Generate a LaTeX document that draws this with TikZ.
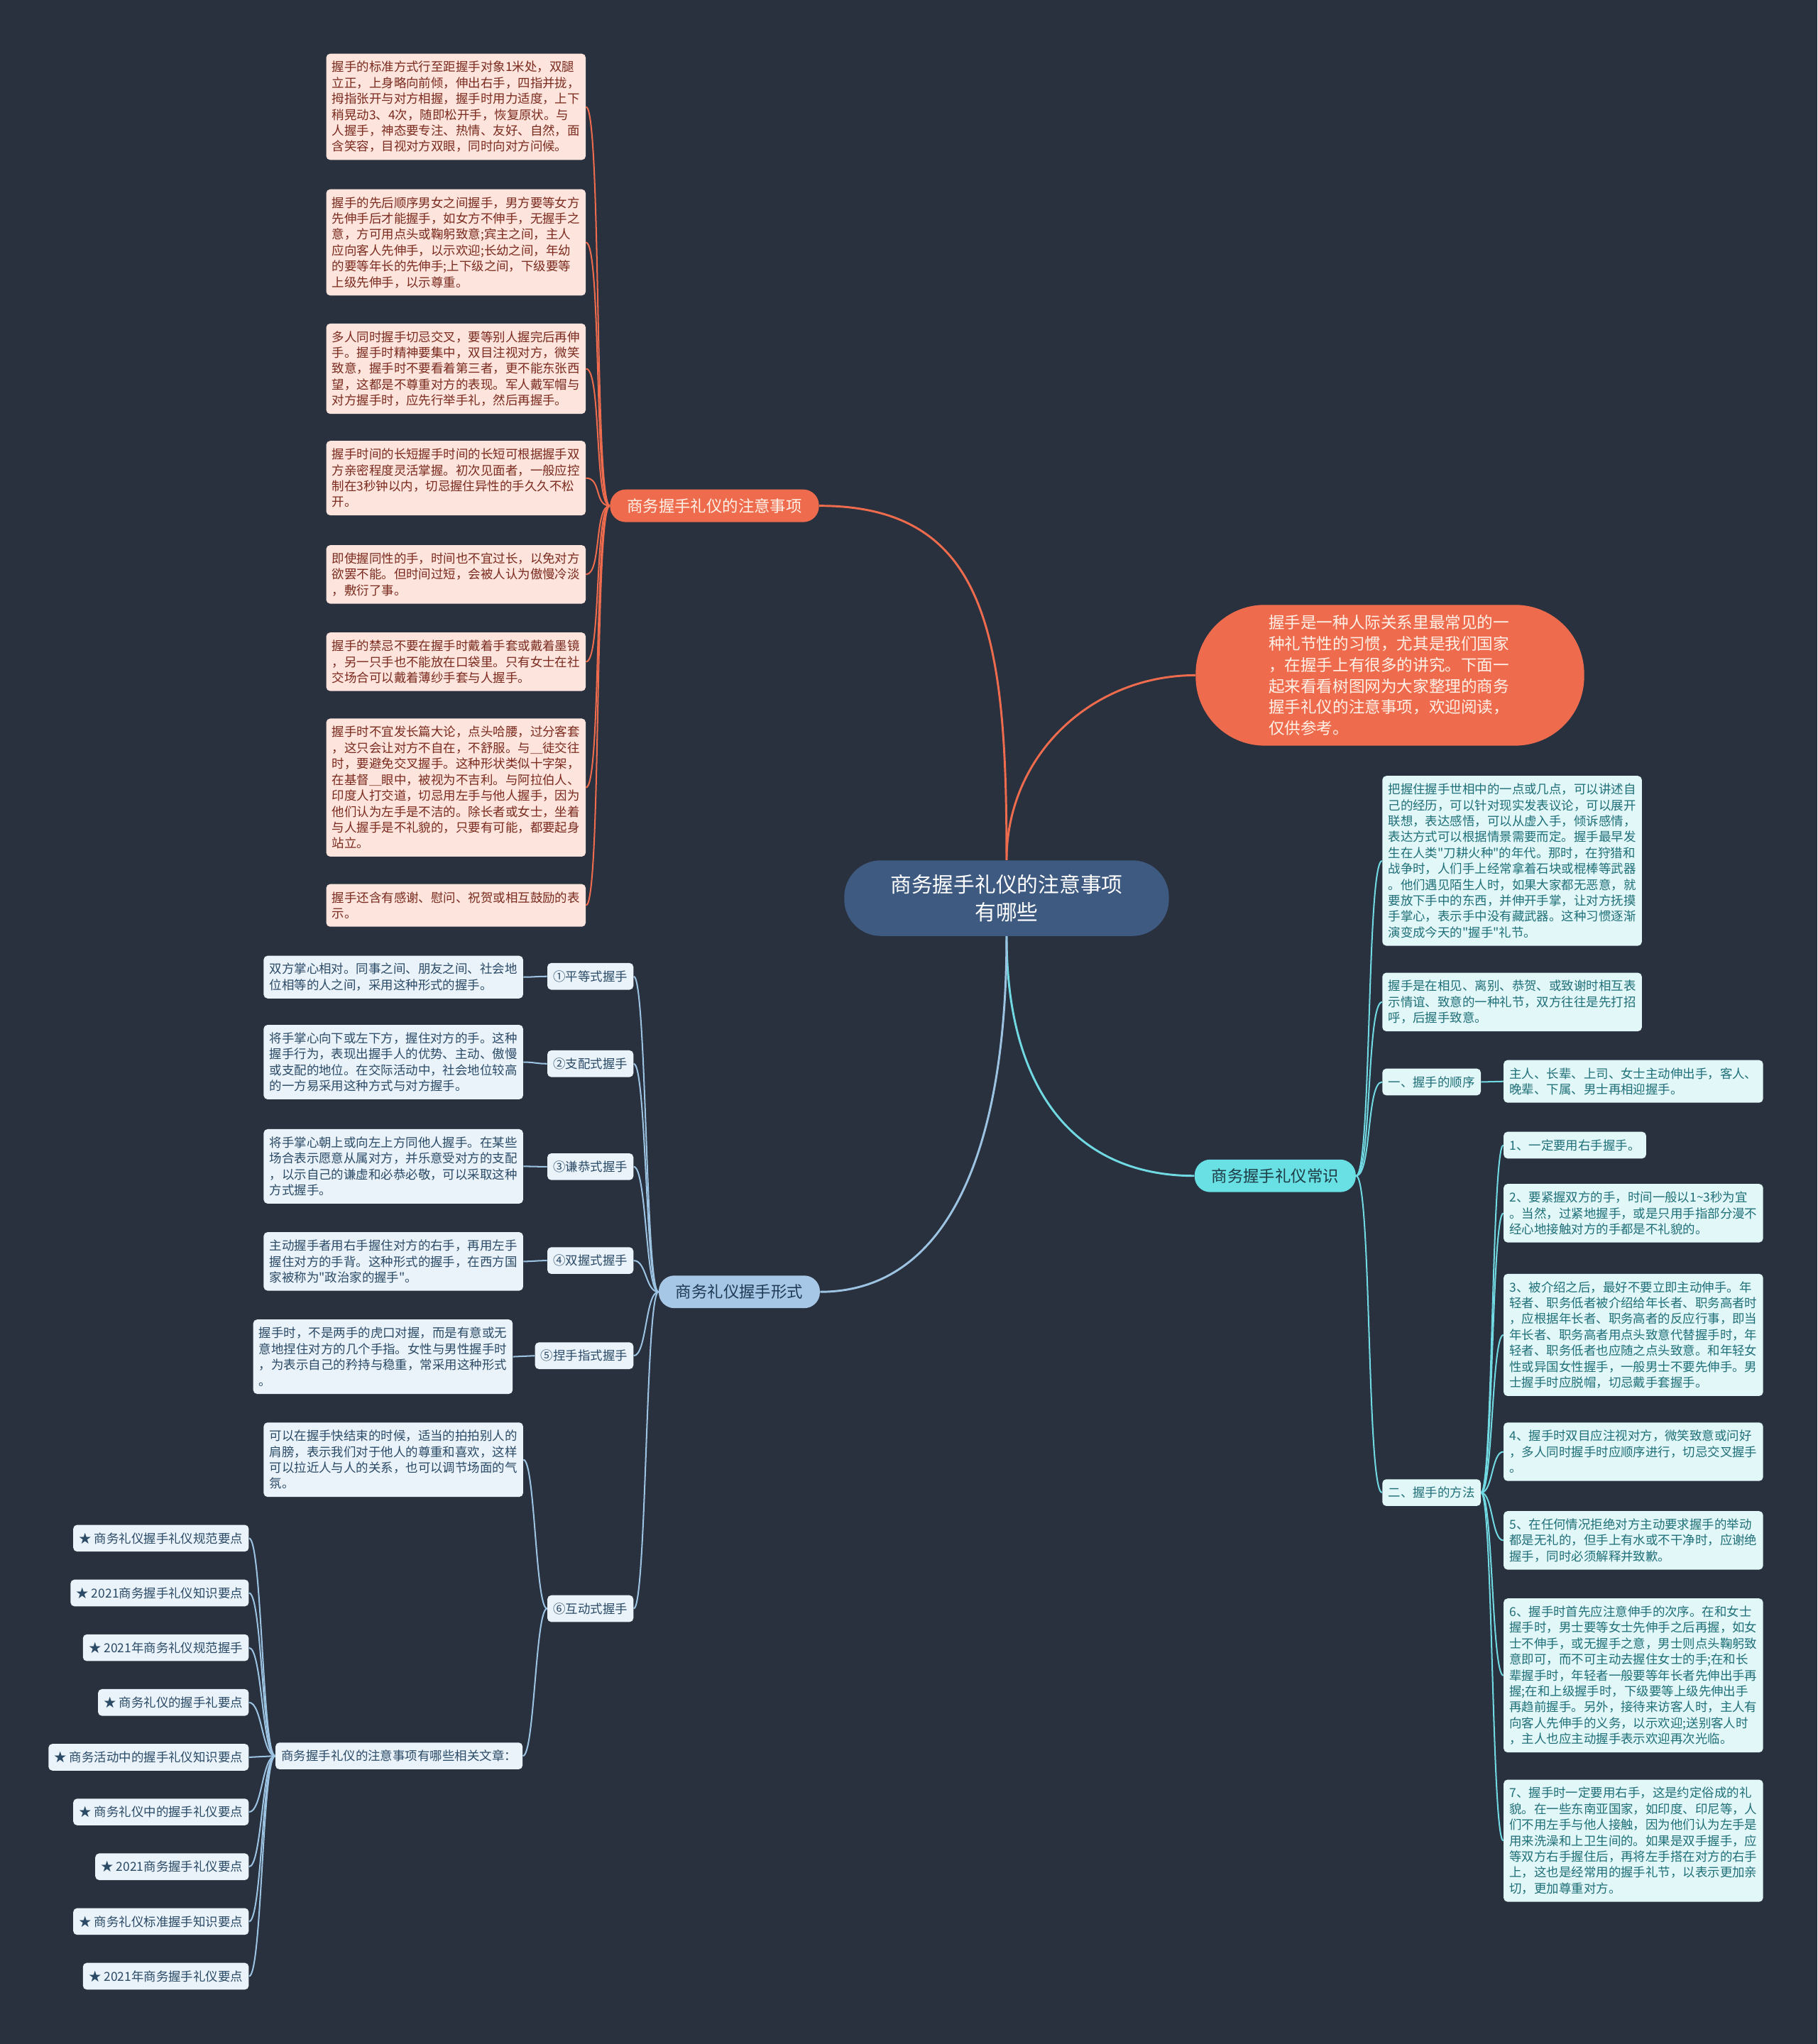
\documentclass[tikz,border=0pt]{standalone}
\usepackage{fontspec}
\setmainfont{Noto Sans CJK SC}[Ligatures=TeXOff]
\usetikzlibrary{positioning}
\definecolor{mapbg}{HTML}{29313F}
\definecolor{rootfill}{HTML}{3E5A80}
\definecolor{careline}{HTML}{EE6C4D}
\definecolor{introtext}{HTML}{FFF1E8}
\definecolor{tipfill}{HTML}{FDE4DC}
\definecolor{tiptext}{HTML}{7A2A1E}
\definecolor{basicfill}{HTML}{68E0E4}
\definecolor{basicline}{HTML}{70D9E2}
\definecolor{basictext}{HTML}{1D3B45}
\definecolor{notefill}{HTML}{E2F7F8}
\definecolor{notetext}{HTML}{1F6F78}
\definecolor{formfill}{HTML}{A6C8E6}
\definecolor{formline}{HTML}{9DC3E2}
\definecolor{formtext}{HTML}{203A55}
\definecolor{descfill}{HTML}{EAF3FA}
\definecolor{desctext}{HTML}{2B4A66}
\tikzset{
  hs root/.style={fill=rootfill,text=white,rounded corners=28pt,
    minimum width=249pt,minimum height=58pt,align=center,inner sep=2pt,
    font=\fontsize{16.2}{21}\selectfont},
  hs intro/.style={fill=careline,text=introtext,rounded corners=53pt,
    minimum width=298pt,minimum height=108pt,text width=186pt,align=left,
    inner sep=0pt,font=\fontsize{12.3}{16.3}\selectfont},
  hs main/.style={rounded corners=12pt,minimum height=25pt,inner xsep=13pt,
    inner ysep=0pt,font=\fontsize{12.2}{14}\selectfont},
  hs box/.style={rounded corners=3pt,inner xsep=4.5pt,inner ysep=0pt,align=left,
    font=\fontsize{9.5}{12.2}\selectfont,minimum height={(#1-1)*12.2pt+20.5pt}},
  hs box/.default=1,
  tip box/.style={hs box=#1,anchor=north west,text width=190pt,fill=tipfill,text=tiptext},
  note box/.style={hs box=#1,anchor=north west,text width=190pt,fill=notefill,text=notetext},
  desc box/.style={hs box=#1,anchor=north west,text width=190pt,fill=descfill,text=desctext},
  note label/.style={hs box,fill=notefill,text=notetext},
  desc label/.style={hs box,fill=descfill,text=desctext},
  care link/.style={draw=careline,line width=1.1pt},
  basic link/.style={draw=basicline,line width=1.1pt},
  form link/.style={draw=formline,line width=1.1pt},
  trunk/.style={line width=1.6pt}
}

\begin{document}
\begin{tikzpicture}[x=1pt,y=-1pt]
  \fill[mapbg] (0,0) rectangle (1394,1568);
  \useasboundingbox (0,0) rectangle (1394,1568);

  % central topic and introduction
  \node[hs root] (root) at (772,689) {商务握手礼仪的注意事项\\有哪些};
  \node[hs intro] (intro) at (1066,518) {握手是一种人际关系里最常见的一\\种礼节性的习惯，尤其是我们国家\\，在握手上有很多的讲究。下面一\\起来看看树图网为大家整理的商务\\握手礼仪的注意事项，欢迎阅读，\\仅供参考。};

  % main branches
  \node[hs main,fill=careline,text=introtext] (care) at (548,388) {商务握手礼仪的注意事项};
  \node[hs main,fill=basicfill,text=basictext] (basic) at (978,902) {商务握手礼仪常识};
  \node[hs main,fill=formfill,text=formtext] (form) at (567,991) {商务礼仪握手形式};

  \draw[care link,trunk] (root.north) .. controls +(0,-170) and +(130,0) .. (care.east);
  \draw[care link,trunk] (root.north) .. controls +(0,-80) and +(-80,0) .. (intro.west);
  \draw[basic link,trunk] (root.south) .. controls +(0,120) and +(-90,0) .. (basic.west);
  \draw[form link,trunk] (root.south) .. controls +(0,160) and +(100,0) .. (form.east);

  % attention points
  \node[tip box=6] (tip1) at (250,41) {握手的标准方式行至距握手对象1米处，双腿\\立正，上身略向前倾，伸出右手，四指并拢，\\拇指张开与对方相握，握手时用力适度，上下\\稍晃动3、4次，随即松开手，恢复原状。与\\人握手，神态要专注、热情、友好、自然，面\\含笑容，目视对方双眼，同时向对方问候。};
  \node[tip box=6] (tip2) at (250,145) {握手的先后顺序男女之间握手，男方要等女方\\先伸手后才能握手，如女方不伸手，无握手之\\意，方可用点头或鞠躬致意;宾主之间，主人\\应向客人先伸手，以示欢迎;长幼之间，年幼\\的要等年长的先伸手;上下级之间，下级要等\\上级先伸手，以示尊重。};
  \node[tip box=5] (tip3) at (250,248) {多人同时握手切忌交叉，要等别人握完后再伸\\手。握手时精神要集中，双目注视对方，微笑\\致意，握手时不要看着第三者，更不能东张西\\望，这都是不尊重对方的表现。军人戴军帽与\\对方握手时，应先行举手礼，然后再握手。};
  \node[tip box=4] (tip4) at (250,338) {握手时间的长短握手时间的长短可根据握手双\\方亲密程度灵活掌握。初次见面者，一般应控\\制在3秒钟以内，切忌握住异性的手久久不松\\开。};
  \node[tip box=3] (tip5) at (250,418) {即使握同性的手，时间也不宜过长，以免对方\\欲罢不能。但时间过短，会被人认为傲慢冷淡\\，敷衍了事。};
  \node[tip box=3] (tip6) at (250,485) {握手的禁忌不要在握手时戴着手套或戴着墨镜\\，另一只手也不能放在口袋里。只有女士在社\\交场合可以戴着薄纱手套与人握手。};
  \node[tip box=8] (tip7) at (250,551) {握手时不宜发长篇大论，点头哈腰，过分客套\\，这只会让对方不自在，不舒服。与＿徒交往\\时，要避免交叉握手。这种形状类似十字架，\\在基督＿眼中，被视为不吉利。与阿拉伯人、\\印度人打交道，切忌用左手与他人握手，因为\\他们认为左手是不洁的。除长者或女士，坐着\\与人握手是不礼貌的，只要有可能，都要起身\\站立。};
  \node[tip box=2] (tip8) at (250,678) {握手还含有感谢、慰问、祝贺或相互鼓励的表\\示。};
  \foreach \i in {1,...,8}
    \draw[care link] (care.west) .. controls +(-12,0) and +(12,0) .. (tip\i.east);

  % common knowledge
  \node[note box=10] (note1) at (1060,595) {把握住握手世相中的一点或几点，可以讲述自\\己的经历，可以针对现实发表议论，可以展开\\联想，表达感悟，可以从虚入手，倾诉感情，\\表达方式可以根据情景需要而定。握手最早发\\生在人类"刀耕火种"的年代。那时，在狩猎和\\战争时，人们手上经常拿着石块或棍棒等武器\\。他们遇见陌生人时，如果大家都无恶意，就\\要放下手中的东西，并伸开手掌，让对方抚摸\\手掌心，表示手中没有藏武器。这种习惯逐渐\\演变成今天的"握手"礼节。};
  \node[note box=3] (note2) at (1060,746) {握手是在相见、离别、恭贺、或致谢时相互表\\示情谊、致意的一种礼节，双方往往是先打招\\呼，后握手致意。};
  \node[note label,anchor=west] (order) at (1060,830) {一、握手的顺序};
  \node[note label,anchor=west] (method) at (1060,1145) {二、握手的方法};
  \node[note box=2] (order1) at (1153,813) {主人、长辈、上司、女士主动伸出手，客人、\\晚辈、下属、男士再相迎握手。};
  \node[note label,anchor=north west] (way1) at (1153,868) {1、一定要用右手握手。};
  \node[note box=3] (way2) at (1153,908) {2、要紧握双方的手，时间一般以1\textasciitilde 3秒为宜\\。当然，过紧地握手，或是只用手指部分漫不\\经心地接触对方的手都是不礼貌的。};
  \node[note box=7] (way3) at (1153,977) {3、被介绍之后，最好不要立即主动伸手。年\\轻者、职务低者被介绍给年长者、职务高者时\\，应根据年长者、职务高者的反应行事，即当\\年长者、职务高者用点头致意代替握手时，年\\轻者、职务低者也应随之点头致意。和年轻女\\性或异国女性握手，一般男士不要先伸手。男\\士握手时应脱帽，切忌戴手套握手。};
  \node[note box=3] (way4) at (1153,1091) {4、握手时双目应注视对方，微笑致意或问好\\，多人同时握手时应顺序进行，切忌交叉握手\\。};
  \node[note box=3] (way5) at (1153,1159) {5、在任何情况拒绝对方主动要求握手的举动\\都是无礼的，但手上有水或不干净时，应谢绝\\握手，同时必须解释并致歉。};
  \node[note box=9] (way6) at (1153,1226) {6、握手时首先应注意伸手的次序。在和女士\\握手时，男士要等女士先伸手之后再握，如女\\士不伸手，或无握手之意，男士则点头鞠躬致\\意即可，而不可主动去握住女士的手;在和长\\辈握手时，年轻者一般要等年长者先伸出手再\\握;在和上级握手时，下级要等上级先伸出手\\再趋前握手。另外，接待来访客人时，主人有\\向客人先伸手的义务，以示欢迎;送别客人时\\，主人也应主动握手表示欢迎再次光临。};
  \node[note box=7] (way7) at (1153,1365) {7、握手时一定要用右手，这是约定俗成的礼\\貌。在一些东南亚国家，如印度、印尼等，人\\们不用左手与他人接触，因为他们认为左手是\\用来洗澡和上卫生间的。如果是双手握手，应\\等双方右手握住后，再将左手搭在对方的右手\\上，这也是经常用的握手礼节，以表示更加亲\\切，更加尊重对方。};
  \foreach \n in {note1,note2,order,method}
    \draw[basic link] (basic.east) .. controls +(12,0) and +(-12,0) .. (\n.west);
  \draw[basic link] (order.east) -- (order1.west);
  \foreach \i in {1,...,7}
    \draw[basic link] (method.east) .. controls +(9,0) and +(-9,0) .. (way\i.west);

  % handshake forms
  \node[desc label,anchor=east] (kind1) at (486,749) {①平等式握手};
  \node[desc label,anchor=east] (kind2) at (486,816) {②支配式握手};
  \node[desc label,anchor=east] (kind3) at (486,895) {③谦恭式握手};
  \node[desc label,anchor=east] (kind4) at (486,967) {④双握式握手};
  \node[desc label,anchor=east] (kind5) at (486,1040) {⑤捏手指式握手};
  \node[desc label,anchor=east] (kind6) at (486,1234) {⑥互动式握手};
  \node[desc box=2] (kdesc1) at (202,733) {双方掌心相对。同事之间、朋友之间、社会地\\位相等的人之间，采用这种形式的握手。};
  \node[desc box=4] (kdesc2) at (202,786) {将手掌心向下或左下方，握住对方的手。这种\\握手行为，表现出握手人的优势、主动、傲慢\\或支配的地位。在交际活动中，社会地位较高\\的一方易采用这种方式与对方握手。};
  \node[desc box=4] (kdesc3) at (202,866) {将手掌心朝上或向左上方同他人握手。在某些\\场合表示愿意从属对方，并乐意受对方的支配\\，以示自己的谦虚和必恭必敬，可以采取这种\\方式握手。};
  \node[desc box=3] (kdesc4) at (202,945) {主动握手者用右手握住对方的右手，再用左手\\握住对方的手背。这种形式的握手，在西方国\\家被称为"政治家的握手"。};
  \node[desc box=4] (kdesc5) at (194,1012) {握手时，不是两手的虎口对握，而是有意或无\\意地捏住对方的几个手指。女性与男性握手时\\，为表示自己的矜持与稳重，常采用这种形式\\。};
  \node[desc box=4] (kdesc6) at (202,1091) {可以在握手快结束的时候，适当的拍拍别人的\\肩膀，表示我们对于他人的尊重和喜欢，这样\\可以拉近人与人的关系，也可以调节场面的气\\氛。};
  \node[desc label,anchor=east] (links) at (401,1347) {商务握手礼仪的注意事项有哪些相关文章：};
  \foreach \i/\y/\t in {1/1180/商务礼仪握手礼仪规范要点,2/1222/2021商务握手礼仪知识要点,
      3/1264/2021年商务礼仪规范握手,4/1306/商务礼仪的握手礼要点,
      5/1348/商务活动中的握手礼仪知识要点,6/1390/商务礼仪中的握手礼仪要点,
      7/1432/2021商务握手礼仪要点,8/1474/商务礼仪标准握手知识要点,
      9/1516/2021年商务握手礼仪要点}
    \node[desc label,anchor=east] (star\i) at (191,\y) {★ \t};
  \foreach \i in {1,...,6}
    \draw[form link] (form.west) .. controls +(-10,0) and +(10,0) .. (kind\i.east);
  \foreach \i in {1,...,5}
    \draw[form link] (kind\i.west) .. controls +(-8,0) and +(8,0) .. (kdesc\i.east);
  \draw[form link] (kind6.west) .. controls +(-9,0) and +(9,0) .. (kdesc6.east);
  \draw[form link] (kind6.west) .. controls +(-9,0) and +(9,0) .. (links.east);
  \foreach \i in {1,...,9}
    \draw[form link] (links.west) .. controls +(-10,0) and +(10,0) .. (star\i.east);
\end{tikzpicture}
\end{document}
